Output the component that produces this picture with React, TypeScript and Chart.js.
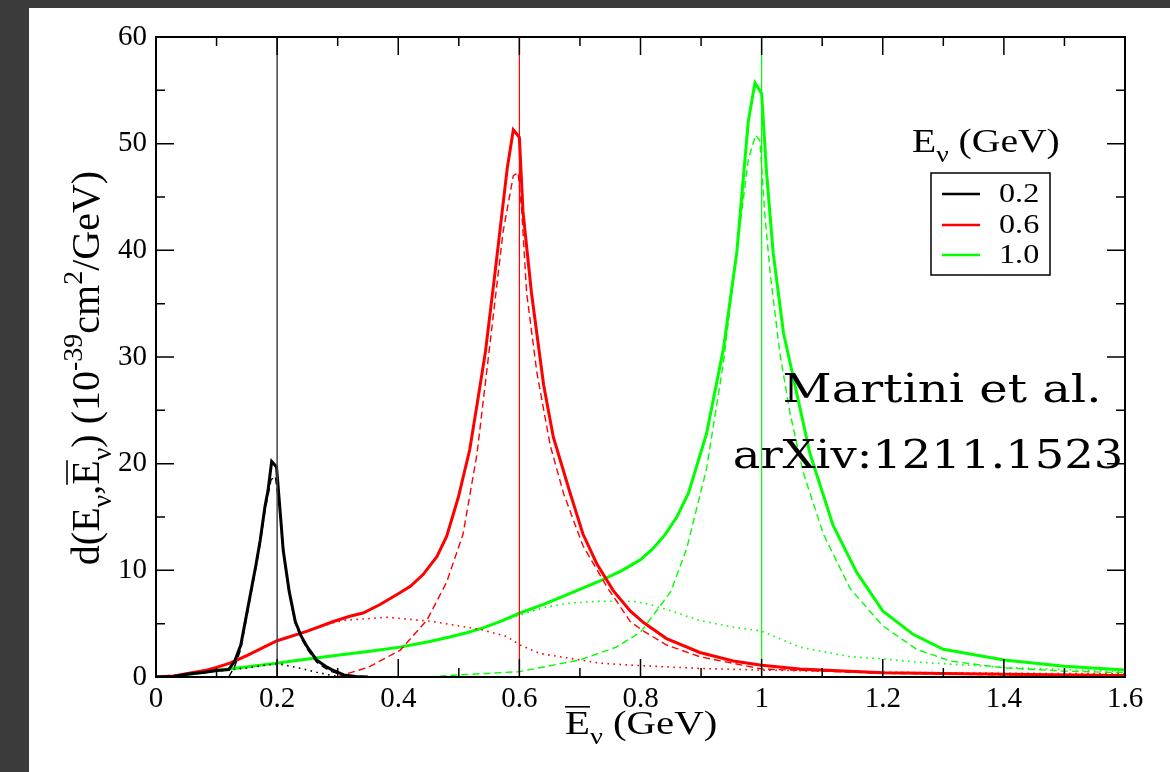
import React, { useEffect, useRef } from 'react';
import { Chart, registerables } from 'chart.js';

Chart.register(...registerables);

// ---------- axis ticks ----------
const X_TICKS = [0, 0.2, 0.4, 0.6, 0.8, 1.0, 1.2, 1.4, 1.6];
const X_TICK_LABELS = ['0', '0.2', '0.4', '0.6', '0.8', '1', '1.2', '1.4', '1.6'];
const X_MINOR = [0.1, 0.3, 0.5, 0.7, 0.9, 1.1, 1.3, 1.5];
const Y_TICKS = [0, 10, 20, 30, 40, 50, 60];
const Y_TICK_LABELS = ['0', '10', '20', '30', '40', '50', '60'];
const Y_MINOR = [5, 15, 25, 35, 45, 55];

// ---------- legend ----------
const E_NU = [0.2, 0.6, 1.0];
const LEGEND_LABELS = ['0.2', '0.6', '1.0'];
const COLORS = ['#000000', '#ff0000', '#00ff00'];

// ---------- E = 0.2 GeV ----------
const blackSolidX = [0, 0.03, 0.05, 0.08, 0.1, 0.12, 0.13, 0.14, 0.155, 0.165, 0.172, 0.18, 0.185, 0.191, 0.199, 0.205, 0.21, 0.22, 0.23, 0.24, 0.25, 0.265, 0.28, 0.29, 0.31, 0.33, 0.35];
const blackSolidY = [0, 0.05, 0.25, 0.45, 0.6, 0.7, 1.5, 3.0, 7.5, 10.5, 12.8, 16.0, 17.5, 20.2, 19.7, 15.5, 11.9, 8.0, 5.2, 3.8, 2.8, 1.6, 1.0, 0.7, 0.2, 0.05, 0];
const blackDashX = [0.12, 0.13, 0.14, 0.155, 0.165, 0.172, 0.18, 0.19, 0.197, 0.205, 0.21, 0.22, 0.23, 0.24, 0.25, 0.265, 0.28, 0.29, 0.31, 0.33];
const blackDashY = [0, 1.0, 2.6, 7.2, 10.2, 12.5, 15.6, 18.5, 18.8, 15.2, 11.7, 7.8, 5.0, 3.6, 2.6, 1.4, 0.8, 0.5, 0.15, 0];
const blackDotX = [0, 0.05, 0.08, 0.1, 0.12, 0.15, 0.18, 0.2, 0.21, 0.24, 0.265, 0.29, 0.31];
const blackDotY = [0, 0.2, 0.4, 0.55, 0.65, 0.85, 1.1, 1.25, 1.15, 0.8, 0.45, 0.15, 0];

// ---------- E = 0.6 GeV ----------
const redSolidX = [0, 0.03, 0.05, 0.08, 0.1, 0.122, 0.15, 0.2, 0.25, 0.293, 0.32, 0.342, 0.37, 0.4, 0.42, 0.441, 0.464, 0.48, 0.499, 0.518, 0.53, 0.544, 0.56, 0.58, 0.59, 0.6, 0.606, 0.62, 0.64, 0.656, 0.684, 0.705, 0.728, 0.755, 0.783, 0.805, 0.843, 0.898, 0.953, 1.0, 1.063, 1.2, 1.4, 1.6];
const redSolidY = [0, 0.1, 0.3, 0.6, 0.9, 1.3, 2.0, 3.4, 4.3, 5.2, 5.7, 6.0, 6.8, 7.8, 8.5, 9.6, 11.3, 13.2, 16.8, 21.3, 25.5, 30.5, 38.0, 47.7, 51.3, 50.6, 43.6, 36.0, 27.4, 22.5, 17.2, 13.4, 10.6, 8.1, 6.2, 5.1, 3.6, 2.3, 1.5, 1.1, 0.75, 0.4, 0.25, 0.15];
const redDashX = [0.3, 0.309, 0.35, 0.403, 0.447, 0.48, 0.507, 0.53, 0.552, 0.573, 0.59, 0.598, 0.604, 0.612, 0.629, 0.651, 0.673, 0.705, 0.744, 0.783, 0.805, 0.843, 0.898, 1.0, 1.2, 1.4, 1.6];
const redDashY = [0, 0.2, 0.9, 2.5, 5.3, 8.9, 13.4, 20.9, 31.5, 41.7, 47.0, 47.3, 43.6, 36.0, 28.5, 21.7, 17.2, 12.3, 8.5, 5.2, 4.3, 3.0, 1.9, 0.75, 0.35, 0.2, 0.1];
const redDotX = [0, 0.05, 0.1, 0.122, 0.15, 0.2, 0.25, 0.293, 0.309, 0.381, 0.458, 0.54, 0.579, 0.601, 0.634, 0.678, 0.733, 0.788, 0.898, 1.0, 1.2, 1.4, 1.6];
const redDotY = [0, 0.3, 0.9, 1.3, 2.0, 3.4, 4.3, 5.1, 5.3, 5.6, 5.2, 4.4, 3.8, 3.0, 2.2, 1.8, 1.3, 1.1, 0.8, 0.65, 0.45, 0.35, 0.3];

// ---------- E = 1.0 GeV ----------
const greenSolidX = [0, 0.018, 0.05, 0.1, 0.128, 0.2, 0.238, 0.293, 0.35, 0.403, 0.45, 0.485, 0.513, 0.54, 0.568, 0.601, 0.64, 0.678, 0.733, 0.77, 0.8, 0.82, 0.84, 0.86, 0.879, 0.909, 0.937, 0.959, 0.978, 0.989, 1.0, 1.008, 1.019, 1.036, 1.058, 1.08, 1.118, 1.157, 1.2, 1.25, 1.3, 1.4, 1.5, 1.6];
const greenSolidY = [0, 0, 0.2, 0.6, 0.8, 1.3, 1.6, 2.0, 2.4, 2.8, 3.3, 3.75, 4.15, 4.6, 5.2, 6.0, 6.8, 7.7, 9.0, 10.0, 11.0, 12.0, 13.3, 15.0, 17.2, 22.8, 30.8, 39.8, 52.1, 55.7, 54.7, 47.4, 39.8, 32.3, 26.6, 20.9, 14.2, 9.8, 6.2, 4.0, 2.6, 1.6, 1.0, 0.65];
const greenDashX = [0.45, 0.502, 0.6, 0.7, 0.76, 0.8, 0.85, 0.876, 0.909, 0.937, 0.959, 0.978, 0.99, 0.997, 1.005, 1.014, 1.03, 1.047, 1.069, 1.102, 1.146, 1.2, 1.256, 1.311, 1.4, 1.5, 1.6];
const greenDashY = [0, 0.2, 0.5, 1.6, 2.8, 4.2, 8.0, 12.0, 19.5, 29.5, 40.0, 48.5, 50.8, 50.3, 43.6, 37.9, 30.4, 24.7, 19.1, 13.4, 8.3, 4.8, 2.6, 1.5, 0.85, 0.55, 0.4];
const greenDotX = [0, 0.018, 0.05, 0.1, 0.128, 0.2, 0.238, 0.293, 0.35, 0.403, 0.45, 0.485, 0.513, 0.54, 0.568, 0.601, 0.64, 0.678, 0.733, 0.788, 0.816, 0.85, 0.898, 0.95, 1.0, 1.063, 1.146, 1.2, 1.256, 1.4, 1.6];
const greenDotY = [0, 0, 0.2, 0.6, 0.8, 1.3, 1.6, 2.0, 2.4, 2.8, 3.3, 3.75, 4.15, 4.6, 5.2, 5.8, 6.5, 6.9, 7.1, 7.1, 6.8, 6.2, 5.3, 4.7, 4.3, 2.8, 1.9, 1.7, 1.4, 0.9, 0.5];

const Y_MAX = 60;

const pts = (xs: number[], ys: number[]) => xs.map((x, i) => ({ x, y: ys[i] }));

type Seg = { t: string; m?: 'sub' | 'sup'; over?: boolean };

function segFont(seg: Seg, size: number, family: string) {
  const fs = seg.m ? size * 0.7 : size;
  return `${fs}px ${family}`;
}

function richWidth(ctx: CanvasRenderingContext2D, segs: Seg[], size: number, family: string) {
  let w = 0;
  for (const s of segs) {
    ctx.font = segFont(s, size, family);
    w += ctx.measureText(s.t).width;
  }
  return w;
}

function drawRich(ctx: CanvasRenderingContext2D, segs: Seg[], size: number, family: string, x0: number) {
  let x = x0;
  ctx.textAlign = 'left';
  ctx.textBaseline = 'alphabetic';
  for (const s of segs) {
    ctx.font = segFont(s, size, family);
    const dy = s.m === 'sub' ? size * 0.3 : s.m === 'sup' ? -size * 0.42 : 0;
    ctx.fillText(s.t, x, dy);
    const w = ctx.measureText(s.t).width;
    if (s.over) {
      ctx.save();
      ctx.lineWidth = 1.6;
      ctx.beginPath();
      ctx.moveTo(x, -size * 0.8);
      ctx.lineTo(x + w, -size * 0.8);
      ctx.stroke();
      ctx.restore();
    }
    x += w;
  }
}

const SERIF = '"Liberation Serif", "Times New Roman", serif';
const TYPE = '"DejaVu Serif", serif';

const X_TITLE: Seg[] = [{ t: 'E', over: true }, { t: 'ν', m: 'sub' }, { t: ' (GeV)' }];
const Y_TITLE: Seg[] = [
  { t: 'd(E' }, { t: 'ν', m: 'sub' }, { t: ',' }, { t: 'E', over: true }, { t: 'ν', m: 'sub' },
  { t: ') (10' }, { t: '-39', m: 'sup' }, { t: 'cm' }, { t: '2', m: 'sup' }, { t: '/GeV)' },
];
const LEGEND_TITLE: Seg[] = [{ t: 'E' }, { t: 'ν', m: 'sub' }, { t: ' (GeV)' }];
const NOTE_LINES = ['Martini et al.', 'arXiv:1211.1523'];

const decorPlugin = {
  id: 'decor',
  beforeDraw(chart: any) {
    const ctx = chart.ctx as CanvasRenderingContext2D;
    ctx.save();
    ctx.fillStyle = '#3b3b3b';
    ctx.fillRect(0, 0, chart.width, chart.height);
    ctx.fillStyle = '#ffffff';
    ctx.fillRect(29, 8, chart.width - 29, chart.height - 8);
    ctx.restore();
  },
  afterDraw(chart: any) {
    const ctx = chart.ctx as CanvasRenderingContext2D;
    const { left, right, top, bottom } = chart.chartArea;
    const xs = chart.scales.x;
    const ys = chart.scales.y;
    ctx.save();
    ctx.strokeStyle = '#000';
    ctx.fillStyle = '#000';
    // ticks
    ctx.lineWidth = 1.5;
    const major = 18, minor = 9;
    ctx.beginPath();
    const vTick = (v: number, len: number) => {
      const px = xs.getPixelForValue(v);
      ctx.moveTo(px, bottom); ctx.lineTo(px, bottom - len);
      ctx.moveTo(px, top); ctx.lineTo(px, top + len);
    };
    const hTick = (v: number, len: number) => {
      const py = ys.getPixelForValue(v);
      ctx.moveTo(left, py); ctx.lineTo(left + len, py);
      ctx.moveTo(right, py); ctx.lineTo(right - len, py);
    };
    X_TICKS.forEach(v => vTick(v, major));
    X_MINOR.forEach(v => vTick(v, minor));
    Y_TICKS.forEach(v => hTick(v, major));
    Y_MINOR.forEach(v => hTick(v, minor));
    ctx.stroke();
    // frame
    ctx.lineWidth = 2;
    ctx.strokeRect(left, top, right - left, bottom - top);

    // x title
    const sx = 1.2;
    ctx.save();
    const xtSize = 34;
    ctx.translate(565, 734);
    ctx.scale(sx, 1);
    drawRich(ctx, X_TITLE, xtSize, SERIF, 0);
    ctx.restore();

    // y title
    ctx.save();
    const ytSize = 40;
    const ytw = richWidth(ctx, Y_TITLE, ytSize, SERIF);
    ctx.translate(99, 368);
    ctx.rotate(-Math.PI / 2);
    drawRich(ctx, Y_TITLE, ytSize, SERIF, -ytw / 2);
    ctx.restore();

    // legend title
    ctx.save();
    ctx.translate(912, 152);
    ctx.scale(sx, 1);
    drawRich(ctx, LEGEND_TITLE, 33, SERIF, 0);
    ctx.restore();

    // legend box
    ctx.lineWidth = 1.5;
    ctx.strokeRect(931, 173, 119, 102);
    const rows = [194, 225, 255];
    LEGEND_LABELS.forEach((lab, i) => {
      ctx.strokeStyle = COLORS[i];
      ctx.lineWidth = 2.5;
      ctx.beginPath();
      ctx.moveTo(942, rows[i]);
      ctx.lineTo(980, rows[i]);
      ctx.stroke();
      ctx.save();
      ctx.translate(999, rows[i]);
      ctx.scale(1.15, 1);
      ctx.font = `28px ${SERIF}`;
      ctx.textAlign = 'left';
      ctx.textBaseline = 'middle';
      ctx.fillStyle = '#000';
      ctx.fillText(lab, 0, 1);
      ctx.restore();
    });

    // annotation
    ctx.fillStyle = '#000';
    const noteCenters = [942, 928];
    const noteBase = [402, 468];
    const noteScale = [1.23, 1.19];
    NOTE_LINES.forEach((line, i) => {
      ctx.save();
      ctx.translate(noteCenters[i], noteBase[i]);
      ctx.scale(noteScale[i], 1);
      ctx.font = `39px ${TYPE}`;
      ctx.textAlign = 'center';
      ctx.textBaseline = 'alphabetic';
      ctx.fillText(line, 0, 0);
      ctx.restore();
    });
    ctx.restore();
  },
};

export default function App() {
  const ref = useRef<HTMLCanvasElement | null>(null);
  useEffect(() => {
    document.body.style.margin = '0';
    const canvas = ref.current;
    if (!canvas) return;
    const solid = 3, dashW = 1.4, dotW = 1.6;
    const dash = [7, 4];
    const dot = [1.6, 4.4];
    const mk = (data: any[], color: string, width: number, bd: number[] = []) => ({
      data,
      borderColor: color,
      borderWidth: width,
      borderDash: bd,
      borderJoinStyle: 'miter',
      pointRadius: 0,
      fill: false,
      tension: 0,
    });
    const vline = (e: number) => [{ x: e, y: 0 }, { x: e, y: Y_MAX }];
    const datasets = [
      mk(vline(E_NU[0]), '#444444', 1.5),
      mk(vline(E_NU[1]), COLORS[1], 1.2),
      mk(vline(E_NU[2]), COLORS[2], 1.2),
      mk(pts(blackSolidX, blackSolidY), COLORS[0], solid),
      mk(pts(blackDashX, blackDashY), COLORS[0], dashW, dash),
      mk(pts(blackDotX, blackDotY), COLORS[0], dotW, dot),
      mk(pts(redSolidX, redSolidY), COLORS[1], solid),
      mk(pts(redDashX, redDashY), COLORS[1], dashW, dash),
      mk(pts(redDotX, redDotY), COLORS[1], dotW, dot),
      mk(pts(greenSolidX, greenSolidY), COLORS[2], solid),
      mk(pts(greenDashX, greenDashY), COLORS[2], dashW, dash),
      mk(pts(greenDotX, greenDotY), COLORS[2], dotW, dot),
    ];
    const chart = new Chart(canvas, {
      type: 'line',
      data: { datasets },
      options: {
        responsive: false,
        animation: false,
        devicePixelRatio: 1,
        layout: { padding: { top: 37, right: 45, left: 0, bottom: 0 } },
        plugins: { legend: { display: false }, tooltip: { enabled: false }, title: { display: false } },
        scales: {
          x: {
            type: 'linear',
            min: 0,
            max: 1.6,
            grid: { display: false, drawTicks: false },
            border: { display: false },
            afterBuildTicks: (s: any) => { s.ticks = X_TICKS.map(v => ({ value: v })); },
            afterFit: (s: any) => { s.height = 95; },
            ticks: {
              autoSkip: false,
              maxRotation: 0,
              padding: 5,
              color: '#000',
              font: { family: SERIF, size: 29 },
              callback: (_v: any, i: number) => X_TICK_LABELS[i],
            },
          },
          y: {
            type: 'linear',
            min: 0,
            max: Y_MAX,
            grid: { display: false, drawTicks: false },
            border: { display: false },
            afterBuildTicks: (s: any) => { s.ticks = Y_TICKS.map(v => ({ value: v })); },
            afterFit: (s: any) => { s.width = 156; },
            ticks: {
              autoSkip: false,
              padding: 9,
              color: '#000',
              font: { family: SERIF, size: 29 },
              callback: (_v: any, i: number) => Y_TICK_LABELS[i],
            },
          },
        },
      },
      plugins: [decorPlugin],
    } as any);
    return () => chart.destroy();
  }, []);
  return (
    <div style={{ position: 'fixed', left: 0, top: 0, width: 1170, height: 772, background: '#3b3b3b' }}>
      <canvas ref={ref} width={1170} height={772} style={{ display: 'block' }} />
    </div>
  );
}
